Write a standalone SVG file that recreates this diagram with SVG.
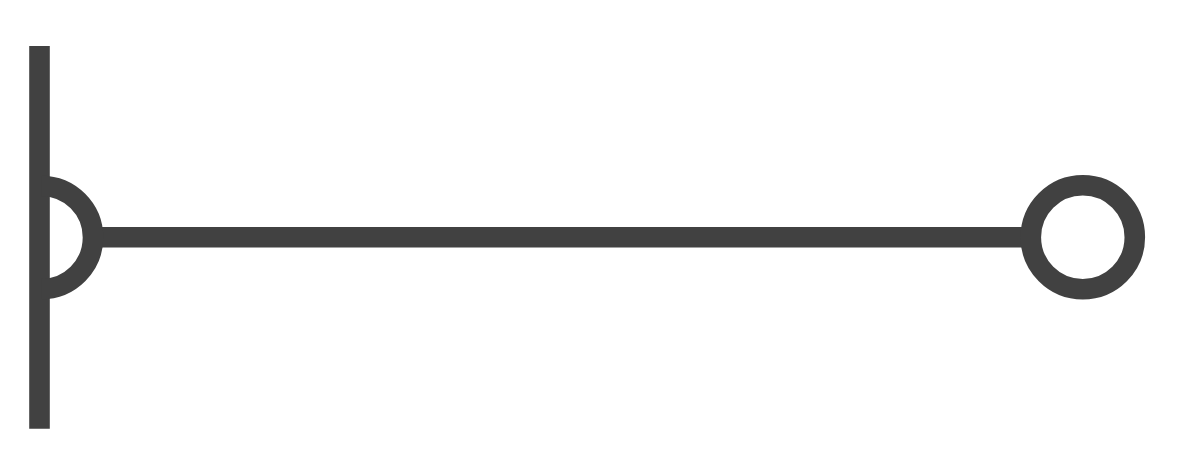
<svg xmlns="http://www.w3.org/2000/svg" width="1177" height="475" viewBox="0 0 1177 475">
<style>
.s{fill:none;stroke:#414141;stroke-width:20.6}
</style>
<rect width="1177" height="475" fill="#ffffff"/>
<g id="connectors">
<line class="s" x1="93" y1="237.2" x2="1031" y2="237.2"/>
</g>
<g id="bar">
<line class="s" x1="39.5" y1="46" x2="39.5" y2="428.7"/>
</g>
<g id="halfcircle">
<path class="s" d="M41.5 186 A51.5 51.5 0 0 1 41.5 289"/>
</g>
<g id="circle">
<circle class="s" cx="1082.8" cy="237.2" r="52"/>
</g>
</svg>
